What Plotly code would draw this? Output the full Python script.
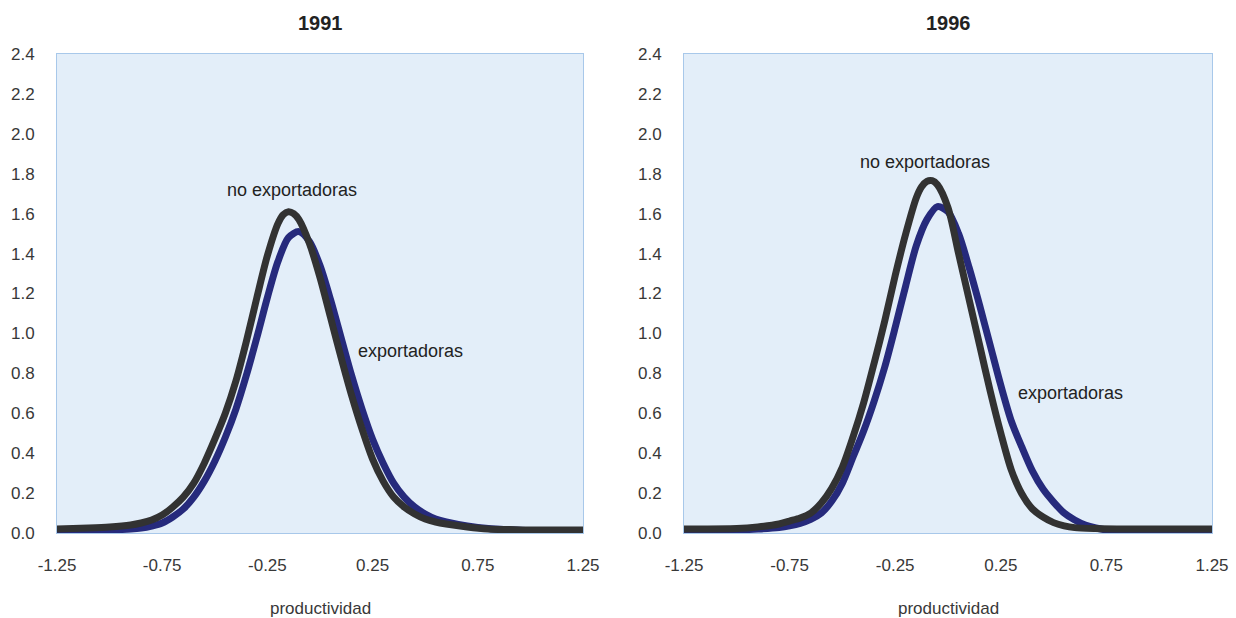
import plotly.graph_objects as go

# ---- data ----
x_1991_no = [-1.25, -1.10, -1.00, -0.90, -0.85, -0.80, -0.75, -0.70, -0.65, -0.60, -0.55, -0.50,
             -0.45, -0.40, -0.35, -0.30, -0.25, -0.20, -0.175, -0.15, -0.125, -0.10, -0.05, 0.00,
             0.05, 0.10, 0.15, 0.20, 0.25, 0.30, 0.35, 0.40, 0.45, 0.50, 0.55, 0.60, 0.70, 0.80,
             0.90, 1.00, 1.25]
y_1991_no = [0.020, 0.025, 0.030, 0.040, 0.050, 0.065, 0.090, 0.130, 0.180, 0.250, 0.350, 0.470,
             0.600, 0.760, 0.960, 1.180, 1.390, 1.550, 1.595, 1.610, 1.600, 1.570, 1.450, 1.280,
             1.080, 0.880, 0.690, 0.520, 0.370, 0.260, 0.180, 0.130, 0.095, 0.070, 0.055, 0.045,
             0.030, 0.020, 0.017, 0.015, 0.015]

x_1991_ex = [-1.25, -1.00, -0.90, -0.85, -0.80, -0.75, -0.70, -0.65, -0.60, -0.55, -0.50, -0.45,
             -0.40, -0.35, -0.30, -0.25, -0.20, -0.15, -0.10, -0.05, 0.00, 0.05, 0.10, 0.15,
             0.20, 0.25, 0.30, 0.35, 0.40, 0.45, 0.50, 0.55, 0.60, 0.70, 0.80, 0.90, 1.00, 1.25]
y_1991_ex = [0.010, 0.015, 0.020, 0.025, 0.035, 0.050, 0.080, 0.120, 0.180, 0.260, 0.360, 0.480,
             0.620, 0.790, 0.980, 1.180, 1.360, 1.480, 1.510, 1.460, 1.340, 1.170, 0.980, 0.790,
             0.620, 0.470, 0.350, 0.250, 0.180, 0.130, 0.095, 0.070, 0.055, 0.035, 0.022, 0.016,
             0.012, 0.010]

x_1996_no = [-1.25, -1.00, -0.90, -0.80, -0.75, -0.70, -0.65, -0.60, -0.55, -0.50, -0.45, -0.40,
             -0.35, -0.30, -0.25, -0.20, -0.15, -0.125, -0.10, -0.075, -0.05, 0.00, 0.05, 0.10,
             0.15, 0.20, 0.25, 0.30, 0.35, 0.40, 0.45, 0.50, 0.55, 0.60, 0.70, 0.80, 1.00, 1.25]
y_1996_no = [0.020, 0.022, 0.030, 0.045, 0.060, 0.075, 0.100, 0.150, 0.225, 0.330, 0.480, 0.650,
             0.850, 1.060, 1.290, 1.500, 1.680, 1.735, 1.762, 1.765, 1.745, 1.630, 1.400, 1.170,
             0.940, 0.710, 0.500, 0.315, 0.195, 0.120, 0.080, 0.052, 0.036, 0.027, 0.022, 0.020,
             0.020, 0.020]

x_1996_ex = [-1.25, -1.00, -0.90, -0.80, -0.75, -0.70, -0.65, -0.60, -0.55, -0.50, -0.45, -0.40,
             -0.35, -0.30, -0.25, -0.20, -0.15, -0.10, -0.05, 0.00, 0.05, 0.10, 0.15, 0.20,
             0.25, 0.30, 0.35, 0.40, 0.45, 0.50, 0.55, 0.60, 0.65, 0.70, 0.75, 0.80, 1.00, 1.25]
y_1996_ex = [0.010, 0.015, 0.020, 0.028, 0.036, 0.048, 0.068, 0.100, 0.160, 0.250, 0.380, 0.510,
             0.660, 0.830, 1.030, 1.240, 1.440, 1.570, 1.635, 1.610, 1.500, 1.330, 1.140, 0.940,
             0.740, 0.560, 0.430, 0.310, 0.220, 0.155, 0.100, 0.065, 0.040, 0.025, 0.015, 0.010,
             0.010, 0.010]

panel_titles = ["1991", "1996"]
series_names = ["no exportadoras", "exportadoras"]
x_tickvals = [-1.25, -0.75, -0.25, 0.25, 0.75, 1.25]
x_ticktext = ["-1.25", "-0.75", "-0.25", "0.25", "0.75", "1.25"]
y_tickvals = [0.0, 0.2, 0.4, 0.6, 0.8, 1.0, 1.2, 1.4, 1.6, 1.8, 2.0, 2.2, 2.4]
y_ticktext = ["0.0", "0.2", "0.4", "0.6", "0.8", "1.0", "1.2", "1.4", "1.6", "1.8", "2.0", "2.2", "2.4"]
x_title = "productividad"

# label anchor positions (data coords)
lab_1991 = {"no exportadoras": (-0.135, 1.72), "exportadoras": (0.43, 0.91)}
lab_1996 = {"no exportadoras": (-0.11, 1.86), "exportadoras": (0.58, 0.70)}

# ---- style ----
BLACK = "#323232"
BLUE = "#262a7c"
BG = "#e3eef9"
BORDER = "#a8c8ea"
TXT = "#383838"
FONT = "Liberation Sans, Arial, sans-serif"
W, H = 1236, 618
ML, MR, MT, MB = 57, 24, 54, 85
PW, PH = W - ML - MR, H - MT - MB

def px_x(px):
    return (px - ML) / PW

def px_y(py):
    return (H - MB - py) / PH

fig = go.Figure()

panels = [
    ("x", "y", x_1991_ex, y_1991_ex, x_1991_no, y_1991_no, lab_1991),
    ("x2", "y2", x_1996_ex, y_1996_ex, x_1996_no, y_1996_no, lab_1996),
]
for xa, ya, xe, ye, xn, yn, labs in panels:
    fig.add_trace(go.Scatter(x=xe, y=ye, mode="lines", name=series_names[1], xaxis=xa, yaxis=ya,
                             line=dict(color=BLUE, width=7, shape="spline", smoothing=0.8),
                             showlegend=False, hoverinfo="skip"))
    fig.add_trace(go.Scatter(x=xn, y=yn, mode="lines", name=series_names[0], xaxis=xa, yaxis=ya,
                             line=dict(color=BLACK, width=7, shape="spline", smoothing=0.8),
                             showlegend=False, hoverinfo="skip"))
    for name, (lx, ly) in labs.items():
        fig.add_annotation(x=lx, y=ly, xref=xa, yref=ya, text=name, showarrow=False,
                           xanchor="center", yanchor="middle",
                           font=dict(family=FONT, size=18, color="#222222"))

xdoms = [[0, px_x(583)], [px_x(684), 1]]

axis_common = dict(showgrid=False, zeroline=False, showline=True, mirror=True, automargin=False,
                   linecolor=BORDER, linewidth=1, ticks="outside", tickcolor="rgba(0,0,0,0)",
                   tickfont=dict(family=FONT, size=17, color=TXT))

fig.update_layout(
    width=W, height=H,
    margin=dict(l=ML, r=MR, t=MT, b=MB, autoexpand=False),
    paper_bgcolor="white", plot_bgcolor=BG,
    font=dict(family=FONT, color=TXT),
    xaxis=dict(domain=xdoms[0], range=[-1.25, 1.25], tickvals=x_tickvals, ticktext=x_ticktext,
               ticklen=17, anchor="y", **axis_common),
    yaxis=dict(domain=[0, 1], range=[0, 2.4], tickvals=y_tickvals, ticktext=y_ticktext,
               ticklen=18, anchor="x", **axis_common),
    xaxis2=dict(domain=xdoms[1], range=[-1.25, 1.25], tickvals=x_tickvals, ticktext=x_ticktext,
                ticklen=17, anchor="y2", **axis_common),
    yaxis2=dict(domain=[0, 1], range=[0, 2.4], tickvals=y_tickvals, ticktext=y_ticktext,
                ticklen=18, anchor="x2", **axis_common),
)

centers = [(57 + 583) / 2, (684 + 1212) / 2]
for i, t in enumerate(panel_titles):
    cx = px_x(centers[i])
    fig.add_annotation(x=cx, y=px_y(23), xref="paper", yref="paper", text="<b>" + t + "</b>",
                       showarrow=False, xanchor="center", yanchor="middle",
                       font=dict(family=FONT, size=20, color="#222222"))
    fig.add_annotation(x=cx, y=px_y(608), xref="paper", yref="paper", text=x_title,
                       showarrow=False, xanchor="center", yanchor="middle",
                       font=dict(family=FONT, size=17, color=TXT))

fig.write_html("out.html", config={"displayModeBar": False},
               post_script="document.body.style.margin='0px';document.body.style.overflow='hidden';")
